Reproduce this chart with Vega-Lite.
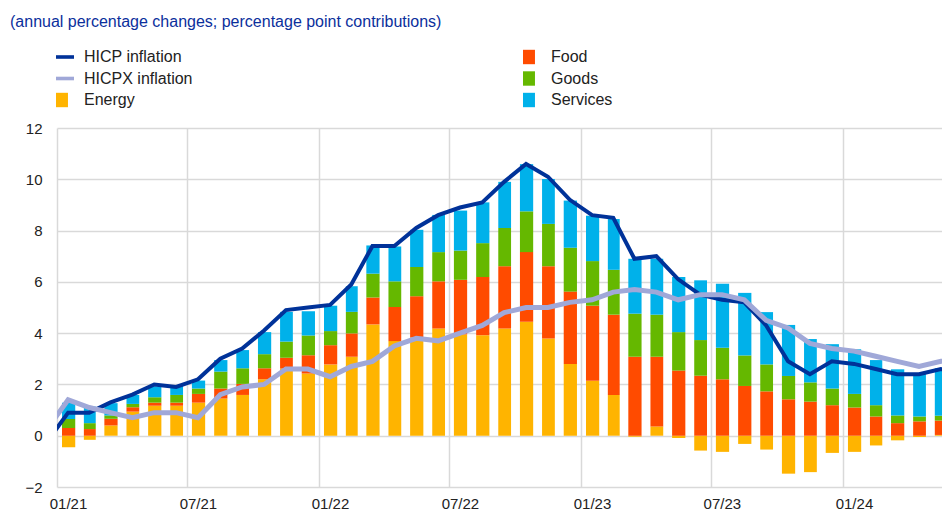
{
  "$schema": "https://vega.github.io/schema/vega-lite/v6.json",
  "width": 885,
  "height": 359,
  "autosize": {"type": "none"},
  "padding": {"left": 57, "top": 128, "right": 0, "bottom": 26},
  "background": "white",
  "config": {
    "view": {"stroke": null},
    "font": "Liberation Sans, Arial, sans-serif"
  },
  "title": {
    "text": "(annual percentage changes; percentage point contributions)",
    "anchor": "start",
    "frame": "group",
    "color": "#0b2f9c",
    "fontSize": 16,
    "fontWeight": "normal",
    "dx": -47,
    "offset": 18
  },
  "datasets": {
    "d": [
      {"date": "2020-12", "HICP": -0.3, "HICPX": 0.2},
      {"date": "2021-01", "Energy": -0.45, "Food": 0.30, "Goods": 0.35, "Services": 0.64, "HICP": 0.9, "HICPX": 1.4},
      {"date": "2021-02", "Energy": -0.16, "Food": 0.26, "Goods": 0.23, "Services": 0.65, "HICP": 0.9, "HICPX": 1.1},
      {"date": "2021-03", "Energy": 0.40, "Food": 0.26, "Goods": 0.13, "Services": 0.48, "HICP": 1.3, "HICPX": 0.9},
      {"date": "2021-04", "Energy": 0.94, "Food": 0.17, "Goods": 0.13, "Services": 0.35, "HICP": 1.6, "HICPX": 0.7},
      {"date": "2021-05", "Energy": 1.17, "Food": 0.12, "Goods": 0.21, "Services": 0.42, "HICP": 2.0, "HICPX": 0.9},
      {"date": "2021-06", "Energy": 1.17, "Food": 0.12, "Goods": 0.30, "Services": 0.35, "HICP": 1.9, "HICPX": 0.9},
      {"date": "2021-07", "Energy": 1.29, "Food": 0.34, "Goods": 0.21, "Services": 0.31, "HICP": 2.2, "HICPX": 0.7},
      {"date": "2021-08", "Energy": 1.45, "Food": 0.39, "Goods": 0.66, "Services": 0.45, "HICP": 3.0, "HICPX": 1.6},
      {"date": "2021-09", "Energy": 1.59, "Food": 0.43, "Goods": 0.61, "Services": 0.71, "HICP": 3.4, "HICPX": 1.9},
      {"date": "2021-10", "Energy": 2.20, "Food": 0.43, "Goods": 0.55, "Services": 0.86, "HICP": 4.1, "HICPX": 2.0},
      {"date": "2021-11", "Energy": 2.62, "Food": 0.42, "Goods": 0.63, "Services": 1.16, "HICP": 4.9, "HICPX": 2.6},
      {"date": "2021-12", "Energy": 2.43, "Food": 0.71, "Goods": 0.77, "Services": 0.94, "HICP": 5.0, "HICPX": 2.6},
      {"date": "2022-01", "Energy": 2.78, "Food": 0.75, "Goods": 0.55, "Services": 0.99, "HICP": 5.1, "HICPX": 2.3},
      {"date": "2022-02", "Energy": 3.08, "Food": 0.91, "Goods": 0.84, "Services": 1.00, "HICP": 5.9, "HICPX": 2.7},
      {"date": "2022-03", "Energy": 4.34, "Food": 1.05, "Goods": 0.93, "Services": 1.10, "HICP": 7.4, "HICPX": 2.9},
      {"date": "2022-04", "Energy": 3.69, "Food": 1.33, "Goods": 1.00, "Services": 1.36, "HICP": 7.4, "HICPX": 3.5},
      {"date": "2022-05", "Energy": 3.83, "Food": 1.61, "Goods": 1.14, "Services": 1.45, "HICP": 8.1, "HICPX": 3.8},
      {"date": "2022-06", "Energy": 4.18, "Food": 1.84, "Goods": 1.14, "Services": 1.45, "HICP": 8.6, "HICPX": 3.7},
      {"date": "2022-07", "Energy": 3.95, "Food": 2.13, "Goods": 1.14, "Services": 1.56, "HICP": 8.9, "HICPX": 4.0},
      {"date": "2022-08", "Energy": 3.92, "Food": 2.27, "Goods": 1.32, "Services": 1.59, "HICP": 9.1, "HICPX": 4.3},
      {"date": "2022-09", "Energy": 4.18, "Food": 2.43, "Goods": 1.49, "Services": 1.80, "HICP": 9.9, "HICPX": 4.8},
      {"date": "2022-10", "Energy": 4.44, "Food": 2.72, "Goods": 1.59, "Services": 1.84, "HICP": 10.6, "HICPX": 5.0},
      {"date": "2022-11", "Energy": 3.79, "Food": 2.82, "Goods": 1.65, "Services": 1.75, "HICP": 10.1, "HICPX": 5.0},
      {"date": "2022-12", "Energy": 2.80, "Food": 2.82, "Goods": 1.71, "Services": 1.84, "HICP": 9.2, "HICPX": 5.2},
      {"date": "2023-01", "Energy": 2.14, "Food": 2.93, "Goods": 1.74, "Services": 1.77, "HICP": 8.6, "HICPX": 5.3},
      {"date": "2023-02", "Energy": 1.59, "Food": 3.13, "Goods": 1.75, "Services": 1.98, "HICP": 8.5, "HICPX": 5.6},
      {"date": "2023-03", "Energy": -0.04, "Food": 3.08, "Goods": 1.68, "Services": 2.14, "HICP": 6.9, "HICPX": 5.7},
      {"date": "2023-04", "Energy": 0.36, "Food": 2.72, "Goods": 1.64, "Services": 2.18, "HICP": 7.0, "HICPX": 5.6},
      {"date": "2023-05", "Energy": -0.09, "Food": 2.54, "Goods": 1.50, "Services": 2.15, "HICP": 6.1, "HICPX": 5.3},
      {"date": "2023-06", "Energy": -0.58, "Food": 2.34, "Goods": 1.39, "Services": 2.33, "HICP": 5.5, "HICPX": 5.5},
      {"date": "2023-07", "Energy": -0.63, "Food": 2.20, "Goods": 1.23, "Services": 2.50, "HICP": 5.3, "HICPX": 5.5},
      {"date": "2023-08", "Energy": -0.32, "Food": 1.94, "Goods": 1.19, "Services": 2.44, "HICP": 5.2, "HICPX": 5.3},
      {"date": "2023-09", "Energy": -0.54, "Food": 1.73, "Goods": 1.05, "Services": 2.04, "HICP": 4.3, "HICPX": 4.5},
      {"date": "2023-10", "Energy": -1.48, "Food": 1.42, "Goods": 0.91, "Services": 1.99, "HICP": 2.9, "HICPX": 4.2},
      {"date": "2023-11", "Energy": -1.42, "Food": 1.33, "Goods": 0.75, "Services": 1.69, "HICP": 2.4, "HICPX": 3.6},
      {"date": "2023-12", "Energy": -0.67, "Food": 1.19, "Goods": 0.65, "Services": 1.73, "HICP": 2.9, "HICPX": 3.4},
      {"date": "2024-01", "Energy": -0.63, "Food": 1.10, "Goods": 0.53, "Services": 1.74, "HICP": 2.8, "HICPX": 3.3},
      {"date": "2024-02", "Energy": -0.38, "Food": 0.75, "Goods": 0.44, "Services": 1.76, "HICP": 2.6, "HICPX": 3.1},
      {"date": "2024-03", "Energy": -0.18, "Food": 0.49, "Goods": 0.30, "Services": 1.80, "HICP": 2.4, "HICPX": 2.9},
      {"date": "2024-04", "Energy": -0.05, "Food": 0.56, "Goods": 0.19, "Services": 1.66, "HICP": 2.4, "HICPX": 2.7},
      {"date": "2024-05", "Energy": 0.03, "Food": 0.56, "Goods": 0.19, "Services": 1.85, "HICP": 2.6, "HICPX": 2.9},
      {"date": "2024-06", "HICP": 2.5, "HICPX": 2.9}
    ]
  },
  "layer": [
    {
      "data": {"name": "d"},
      "transform": [
        {"fold": ["Energy", "Food", "Goods", "Services"], "as": ["series", "value"]},
        {"filter": "isValid(datum.value)"}
      ],
      "mark": {"type": "bar", "width": {"band": 0.64}, "clip": true},
      "encoding": {
        "x": {
          "field": "date", "type": "temporal", "timeUnit": "utcyearmonth",
          "scale": {"domain": [{"year": 2021, "month": 1, "date": 1, "utc": true}, {"year": 2024, "month": 5, "date": 18, "utc": true}], "nice": false},
          "axis": {
            "values": [
              {"year": 2021, "month": 1, "date": 1, "utc": true},
              {"year": 2021, "month": 7, "date": 1, "utc": true},
              {"year": 2022, "month": 1, "date": 1, "utc": true},
              {"year": 2022, "month": 7, "date": 1, "utc": true},
              {"year": 2023, "month": 1, "date": 1, "utc": true},
              {"year": 2023, "month": 7, "date": 1, "utc": true},
              {"year": 2024, "month": 1, "date": 1, "utc": true}
            ],
            "format": "%m/%y",
            "title": null,
            "grid": true, "gridColor": "#d9d9d9", "gridWidth": 1.5,
            "ticks": false, "domain": false,
            "labelOffset": 11, "labelPadding": 9, "labelFlush": false,
            "labelFontSize": 15, "labelColor": "#222222"
          }
        },
        "y": {
          "field": "value", "type": "quantitative", "stack": "zero",
          "scale": {"domain": [-2, 12], "nice": false},
          "axis": {
            "values": [-2, 0, 2, 4, 6, 8, 10, 12],
            "title": null,
            "grid": true, "gridColor": "#d9d9d9", "gridWidth": 1.5,
            "ticks": false, "domain": false,
            "labelPadding": 15, "labelFontSize": 15, "labelColor": "#222222"
          }
        },
        "order": {"field": "series", "sort": "ascending"},
        "color": {
          "field": "series", "type": "nominal",
          "scale": {
            "domain": ["HICP inflation", "Food", "HICPX inflation", "Goods", "Energy", "Services"],
            "range": ["#003299", "#ff4b00", "#a0a8d8", "#65b800", "#ffb400", "#00b1ea"]
          },
          "legend": {
            "orient": "none", "legendX": -1, "legendY": -80,
            "direction": "horizontal",
            "columns": 2, "columnPadding": 330, "rowPadding": 4.5, "gridAlign": "all",
            "symbolSize": 324, "labelFontSize": 16, "labelOffset": 10, "labelColor": "#222222",
            "title": null, "padding": 0,
            "encode": {
              "symbols": {
                "update": {
                  "shape": {"signal": "(datum.value == 'HICP inflation' || datum.value == 'HICPX inflation') ? 'M-1,-0.2H1V0.2H-1Z' : 'M-1,-0.8H0.33V0.8H-1Z'"},
                  "fill": {"scale": "color", "field": "value"},
                  "strokeWidth": {"value": 0},
                  "opacity": {"value": 1}
                }
              }
            }
          }
        }
      }
    },
    {
      "mark": {"type": "rule", "color": "#595959", "strokeWidth": 2},
      "encoding": {"y": {"datum": 0}}
    },
    {
      "data": {"name": "d"},
      "mark": {"type": "line", "clip": true, "strokeWidth": 4},
      "encoding": {
        "x": {"field": "date", "type": "temporal", "timeUnit": "utcyearmonth", "bandPosition": 0.5},
        "y": {"field": "HICP", "type": "quantitative"},
        "color": {"datum": "HICP inflation"}
      }
    },
    {
      "data": {"name": "d"},
      "mark": {"type": "line", "clip": true, "strokeWidth": 5},
      "encoding": {
        "x": {"field": "date", "type": "temporal", "timeUnit": "utcyearmonth", "bandPosition": 0.5},
        "y": {"field": "HICPX", "type": "quantitative"},
        "color": {"datum": "HICPX inflation"}
      }
    }
  ]
}
